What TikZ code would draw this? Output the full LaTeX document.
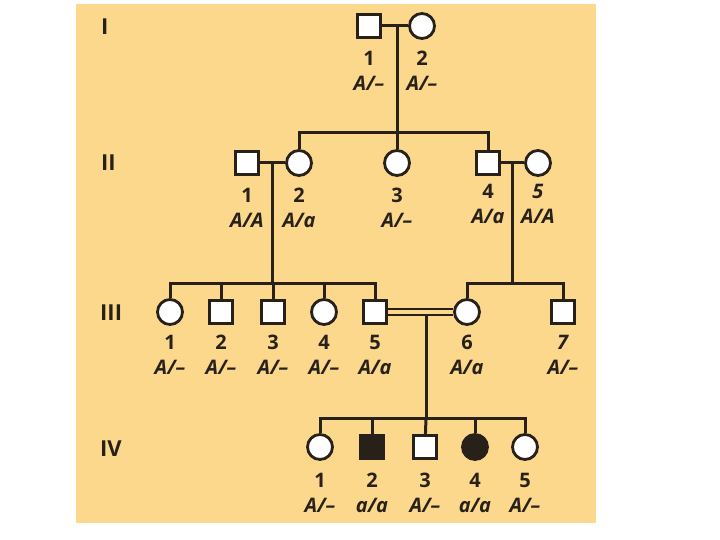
\documentclass[tikz,border=0pt]{standalone}
\usepackage{fontspec}
\setmainfont{Open Sans}
\definecolor{sabbia}{RGB}{252,216,140}
\definecolor{ink}{RGB}{40,33,25}
\tikzset{
  male/.style   = {rectangle, draw=ink, line width=2.8pt, fill=white, minimum size=23pt, inner sep=0},
  female/.style = {circle, draw=ink, line width=2.8pt, fill=white, minimum size=25pt, inner sep=0},
  aff/.style    = {fill=ink},
  link/.style   = {draw=ink, line width=3pt},
  et/.style     = {font=\fontsize{20}{25}\selectfont\bfseries, text=ink, align=center, inner sep=0},
  gen/.style    = {font=\fontsize{22}{24}\selectfont\bfseries, text=ink, anchor=west, inner sep=0}
}
\newcommand{\gt}[1]{\textit{#1}}

\begin{document}
\begin{tikzpicture}[x=1pt, y=-1pt]
  \useasboundingbox (0,0) rectangle (720,540);
  \fill[sabbia] (76,4) rectangle (596,523);
  % generations
  \node[gen] (gI)   at (101,27)  {I};
  \node[gen] (gII)  at (101,163) {II};
  \node[gen] (gIII) at (100,313) {III};
  \node[gen] (gIV)  at (100,449) {IV};
  % I
  \node[male]   (I1) at (369,26){}; \node[et] (tI1) at (369,71) {1\\\gt{A/–}};
  \node[female] (I2) at (422,26){}; \node[et] (tI2) at (422,71) {2\\\gt{A/–}};
  \coordinate (mI) at (397,26); \coordinate (sII) at (397,133);
  \draw[link] (I1) -- (I2); \draw[link] (mI) -- (sII);
  % II
  \node[male]   (II1) at (247,163){}; \node[et] (tII1) at (247,208) {1\\\gt{A/A}};
  \node[female] (II2) at (299,163){}; \node[et] (tII2) at (299,208) {2\\\gt{A/a}};
  \node[female] (II3) at (397,163){}; \node[et] (tII3) at (397,208) {3\\\gt{A/–}};
  \node[male]   (II4) at (488,163){}; \node[et] (tII4) at (488,204) {4\\\gt{A/a}};
  \node[female] (II5) at (538,163){}; \node[et] (tII5) at (538,204) {\gt{5}\\\gt{A/A}};
  \draw[link] (II2) -- (II2 |- sII) -- (II4 |- sII) -- (II4); \draw[link] (sII) -- (II3);
  \coordinate (mII) at (272,163); \coordinate (sIIIa) at (272,283);
  \coordinate (mIIb) at (512,163); \coordinate (sIIIb) at (512,283);
  \draw[link] (II1) -- (II2); \draw[link] (mII) -- (sIIIa);
  \draw[link] (II4) -- (II5); \draw[link] (mIIb) -- (sIIIb);
  % III
  \node[female] (III1) at (170,312){}; \node[et] (tIII1) at (170,355) {1\\\gt{A/–}};
  \node[male]   (III2) at (221,312){}; \node[et] (tIII2) at (221,355) {2\\\gt{A/–}};
  \node[male]   (III3) at (273,312){}; \node[et] (tIII3) at (273,355) {3\\\gt{A/–}};
  \node[female] (III4) at (324,312){}; \node[et] (tIII4) at (324,355) {4\\\gt{A/–}};
  \node[male]   (III5) at (375,312){}; \node[et] (tIII5) at (375,355) {5\\\gt{A/a}};
  \node[female] (III6) at (467,312){}; \node[et] (tIII6) at (467,355) {6\\\gt{A/a}};
  \node[male]   (III7) at (563,312){}; \node[et] (tIII7) at (563,355) {\gt{7}\\\gt{A/–}};
  \draw[link] (III1) -- (III1 |- sIIIa) -- (III5 |- sIIIa) -- (III5);
  \draw[link] (III2 |- sIIIa) -- (III2); \draw[link] (III3 |- sIIIa) -- (III3); \draw[link] (III4 |- sIIIa) -- (III4);
  \draw[link] (III6) -- (III6 |- sIIIb) -- (III7 |- sIIIb) -- (III7);
  \draw[link, double=sabbia, double distance=3.4pt, line width=2.6pt] (III5) -- (III6);
  \coordinate (mIII) at (426,314); \coordinate (sIV) at (426,418);
  \draw[link] (mIII) -- (sIV);
  % IV
  \node[female]     (IV1) at (320,447){}; \node[et] (tIV1) at (320,493) {1\\\gt{A/–}};
  \node[male,aff]   (IV2) at (372,447){}; \node[et] (tIV2) at (372,493) {2\\\gt{a/a}};
  \node[male]       (IV3) at (425,447){}; \node[et] (tIV3) at (425,493) {3\\\gt{A/–}};
  \node[female,aff] (IV4) at (475,447){}; \node[et] (tIV4) at (475,493) {4\\\gt{a/a}};
  \node[female]     (IV5) at (525,447){}; \node[et] (tIV5) at (525,493) {5\\\gt{A/–}};
  \draw[link] (IV1) -- (IV1 |- sIV) -- (IV5 |- sIV) -- (IV5);
  \draw[link] (IV2 |- sIV) -- (IV2); \draw[link] (sIV) -- (IV3); \draw[link] (IV4 |- sIV) -- (IV4);
\end{tikzpicture}
\end{document}
